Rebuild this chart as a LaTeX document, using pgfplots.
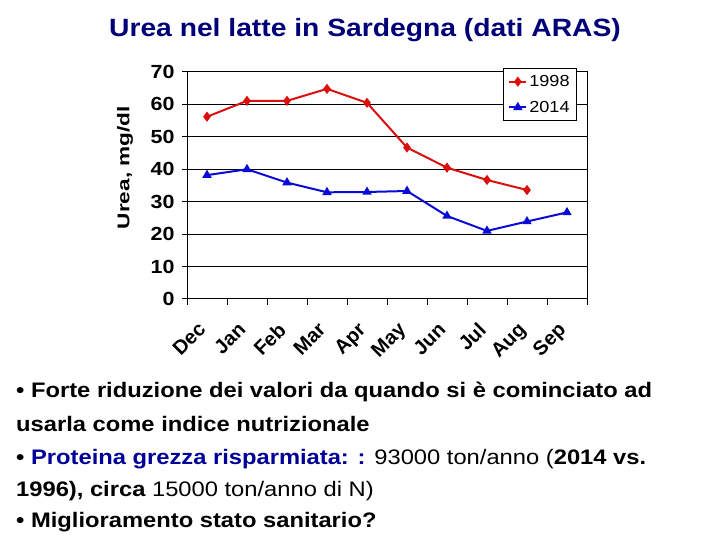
\documentclass[border=0pt]{standalone}
\usepackage{fontspec}
\setmainfont{Liberation Sans}[FakeStretch=1.13]
\newfontfamily\labelfont{Liberation Sans}[FakeStretch=1.33]
\newfontfamily\tickfont{Liberation Sans}
\usepackage{pgfplots}
\pgfplotsset{compat=1.18}
\definecolor{redline}{RGB}{220,15,15}
\definecolor{blueline}{RGB}{10,10,215}
\definecolor{textblue}{RGB}{0,0,150}
\definecolor{titleblue}{RGB}{0,0,120}

\begin{document}
\begin{tikzpicture}[x=1pt,y=1pt]
\path[use as bounding box] (0,0) rectangle (720,540);
\node[anchor=base, inner sep=0pt, text=titleblue, font=\fontsize{25}{28}\selectfont\bfseries] at (365,503) {Urea nel latte in Sardegna (dati ARAS)};
\begin{axis}[
  at={(187pt,241pt)}, anchor=south west,
  scale only axis, width=400pt, height=227pt,
  xmin=-0.5, xmax=9.5, ymin=0, ymax=70,
  ytick={0,10,...,70},
  ymajorgrids, grid style={black, line width=1pt},
  axis line style={black, line width=1pt},
  xtick={0,...,9},
  xticklabels={Dec,Jan,Feb,Mar,Apr,May,Jun,Jul,Aug,Sep},
  major x tick style={draw=none},
  minor xtick={-0.5,0.5,...,9.5},
  tick align=outside, major tick length=5pt, minor tick length=6pt,
  tick style={black, line width=1pt},
  xtick pos=bottom, ytick pos=left,
  /pgf/number format/assume math mode=true,
  yticklabel style={font=\fontsize{19}{21}\selectfont\bfseries, xshift=-4pt},
  xticklabel style={font=\tickfont\fontsize{20}{22}\selectfont\bfseries, inner sep=0pt, yshift=-17pt, xshift=-10pt, rotate=45, anchor=north east},
  ylabel={Urea, mg/dl},
  ylabel style={font=\labelfont\fontsize{17}{19}\selectfont\bfseries, at={(axis description cs:-0.155,0.579)}, anchor=center},
  legend style={at={(0.975,1.018)}, anchor=north east, draw=black, line width=0.8pt,
    font=\fontsize{16}{18}\selectfont, row sep=9pt, inner sep=5pt},
  legend cell align=left,
]
\addplot[redline, line width=2pt, mark=diamond*, mark size=3.5pt, mark options={solid}] coordinates {
  (0,56.2) (1,61.1) (2,61.1) (3,64.8) (4,60.5) (5,46.7) (6,40.5) (7,36.7) (8,33.6)
};
\addlegendentry{1998}
\addplot[blueline, line width=2pt, mark=triangle*, mark size=3.5pt, mark options={solid}] coordinates {
  (0,38.2) (1,40.0) (2,35.9) (3,32.9) (4,33.0) (5,33.3) (6,25.6) (7,21.0) (8,23.9) (9,26.7)
};
\addlegendentry{2014}
\end{axis}
\begin{scope}[every node/.style={anchor=base west, inner sep=0pt, font=\fontsize{21}{24}\selectfont\bfseries}]
\node at (16,142) {• Forte riduzione dei valori da quando si è cominciato ad};
\node at (16,108) {usarla come indice nutrizionale};
\node at (16,75) {• \textcolor{textblue}{Proteina grezza risparmiata: :} \mdseries 93000 ton/anno (\bfseries 2014 vs.};
\node at (16,43) {1996), circa \mdseries 15000 ton/anno di N)};
\node at (16,12) {• Miglioramento stato sanitario?};
\end{scope}
\end{tikzpicture}
\end{document}
